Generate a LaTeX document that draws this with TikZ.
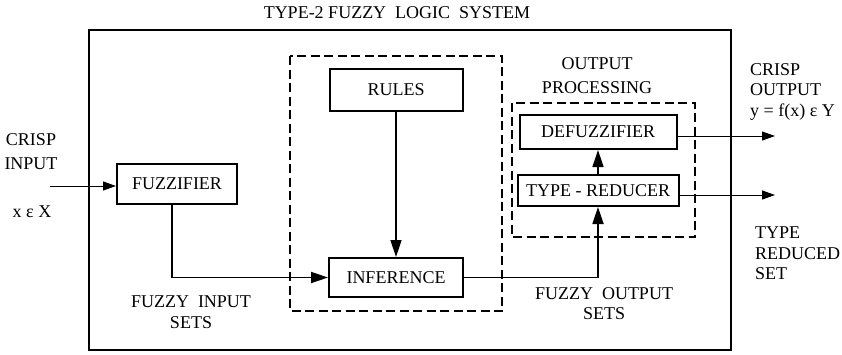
\documentclass[tikz,border=0pt]{standalone}
\usepackage{fontspec}
\setmainfont{Liberation Serif}
\usetikzlibrary{arrows.meta}
\begin{document}
\begin{tikzpicture}[x=1pt,y=-1pt,
  font=\fontsize{18}{20.5}\selectfont,
  blk/.style={draw,line width=2pt,inner sep=0pt,align=center},
  grp/.style={draw,line width=1.5pt,dash pattern=on 9pt off 4.5pt},
  sysbox/.style={draw,line width=2pt},
  bigarr/.style={line width=1.8pt,-{Triangle[length=17pt,width=11pt]}},
  thinarr/.style={line width=1pt,-{Triangle[length=13pt,width=9pt]}},
  lbl/.style={inner sep=0pt,align=center}]
\useasboundingbox (0,0) rectangle (842,354);
% system box and groups
\draw[sysbox] (89,30) rectangle (731,350);
\draw[grp] (290,56) rectangle (502,311);
\draw[grp] (512,103) rectangle (695,237);
% title
\node[lbl] (title) at (397,13) {TYPE-2 FUZZY\ \ LOGIC\ \ SYSTEM};
% blocks
\node[blk,minimum width=133pt,minimum height=42pt] (rules) at (396,90) {RULES};
\node[blk,minimum width=134pt,minimum height=39pt] (inf) at (396,277.5) {INFERENCE};
\node[blk,minimum width=120pt,minimum height=40pt] (fuzz) at (177,184) {FUZZIFIER};
\node[blk,minimum width=157pt,minimum height=34pt] (dz) at (598,132) {DEFUZZIFIER};
\node[blk,minimum width=161pt,minimum height=31pt] (tr) at (598,190.5) {TYPE - REDUCER};
% labels
\node[lbl,anchor=north] (cin) at (31,133) {CRISP\\[4pt]INPUT};
\node[lbl] (xin) at (32,212) {x ε X};
\node[lbl,anchor=north] (opr) at (597,57) {OUTPUT\\[4pt]PROCESSING};
\node[lbl,anchor=north] (fis) at (191,296) {FUZZY\ \ INPUT\\SETS};
\node[lbl,anchor=north] (fos) at (604,287) {FUZZY\ \ OUTPUT\\SETS};
\node[lbl,anchor=north west,align=left] (cout) at (750,63) {CRISP\\OUTPUT\\y = f(x) ε Y};
\node[lbl,anchor=north west,align=left] (trs) at (755,227) {TYPE\\REDUCED\\SET};
% connectors
\coordinate (in) at (50,186);
\coordinate (o1) at (775,136);
\coordinate (o2) at (775,195);
\draw[thinarr] (in) -- (in -| fuzz.west);
\draw[bigarr] ([xshift=-5pt]fuzz.south) |- (inf.west);
\draw[bigarr,line width=1.4pt] (rules.south) -- (inf.north);
\draw[bigarr] (inf.east) -| (tr.south);
\draw[bigarr,line width=1.4pt] (tr.north) -- (dz.south);
\draw[thinarr] (o1 -| dz.east) -- (o1);
\draw[thinarr] (o2 -| tr.east) -- (o2);
\end{tikzpicture}
\end{document}
